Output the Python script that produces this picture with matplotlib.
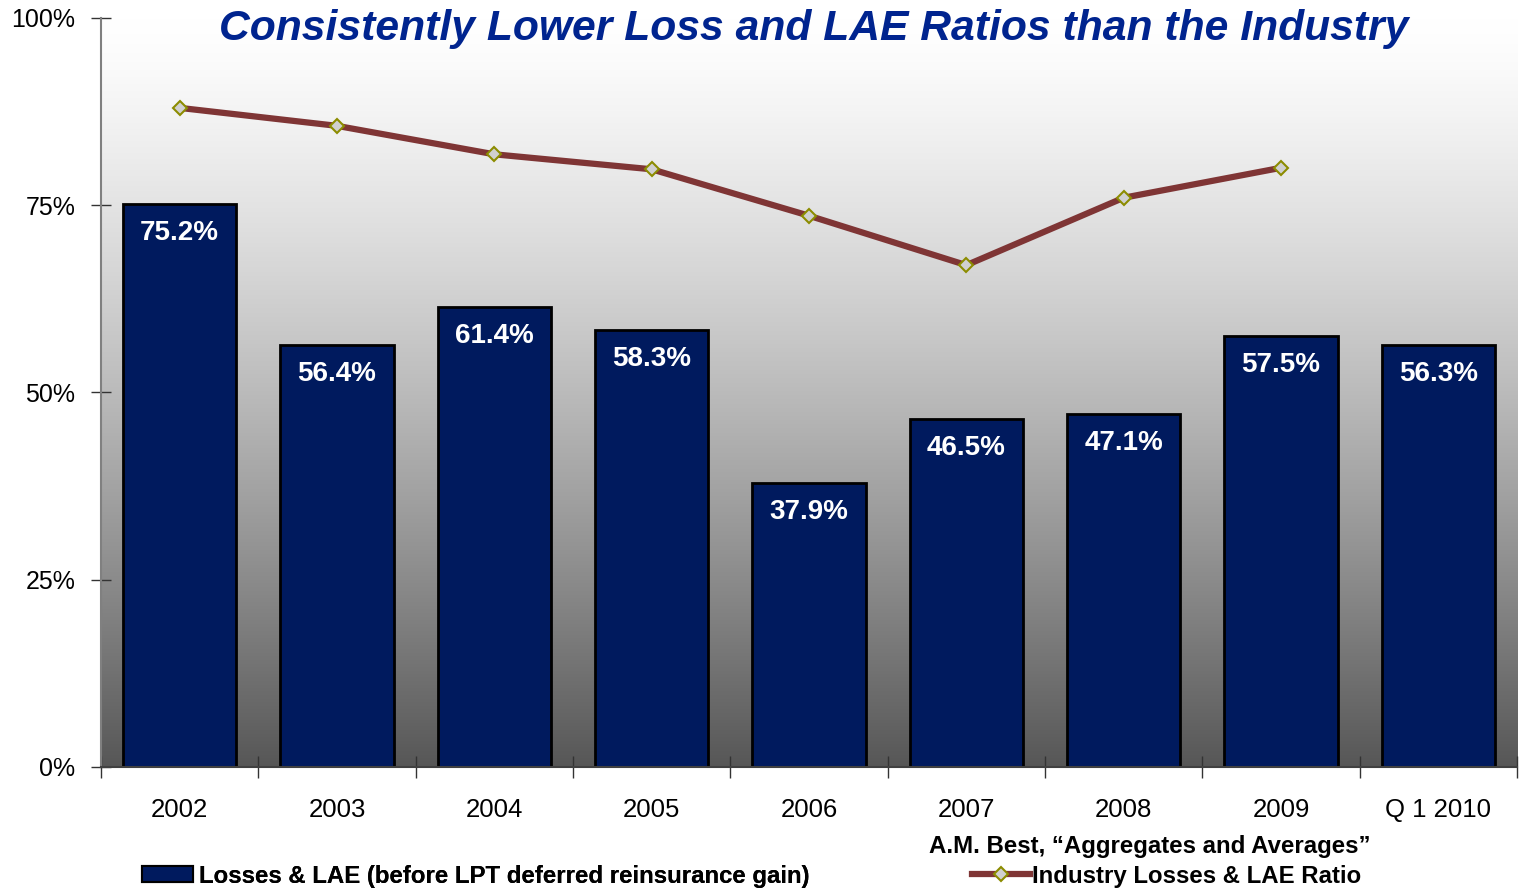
import numpy as np
import matplotlib.pyplot as plt
from matplotlib.lines import Line2D
from matplotlib.patches import Patch

categories = ["2002", "2003", "2004", "2005", "2006", "2007", "2008", "2009", "Q 1 2010"]
company_ratio = [75.2, 56.4, 61.4, 58.3, 37.9, 46.5, 47.1, 57.5, 56.3]
industry_ratio = [88.0, 85.6, 81.8, 79.8, 73.6, 67.0, 76.0, 80.0]

bar_color = "#001a5e"
line_color = "#7f3535"
title_color = "#00248f"

plt.rcParams['font.family'] = ['Liberation Sans', 'DejaVu Sans']

fig = plt.figure(figsize=(15.21, 8.91), dpi=100)
ax = fig.add_axes([0.0664, 0.1392, 0.931, 0.8406])

x = np.arange(len(categories))

# gradient background, white at top to dark gray at bottom
grad = np.linspace(0, 1, 256).reshape(-1, 1)
shade = 1 - 0.66 * grad ** 1.3
img = np.dstack([shade, shade, shade])
ax.imshow(img, extent=(-0.5, len(categories) - 0.5, 0, 100), aspect='auto',
          origin='upper', zorder=0)

ax.bar(x, company_ratio, width=0.72, color=bar_color, edgecolor="black",
       linewidth=2, zorder=2)
for xi, v in zip(x, company_ratio):
    ax.annotate(f"{v:.1f}%", (xi, v), xytext=(0, -21), textcoords="offset points",
                ha="center", va="center", color="white", fontsize=20,
                fontweight="bold", zorder=4)

ax.plot(x[:len(industry_ratio)], industry_ratio, color=line_color, linewidth=4.5,
        marker="D", markersize=7, markerfacecolor="#d0d0d0",
        markeredgecolor="#8c8c00", markeredgewidth=1.5, zorder=3)

ax.set_xlim(-0.5, len(categories) - 0.5)
ax.set_ylim(0, 100)

ax.set_yticks([0, 25, 50, 75, 100])
ax.set_yticklabels([f"{t}%" for t in [0, 25, 50, 75, 100]])
ax.tick_params(axis="y", direction="inout", length=15, width=1, pad=11,
               labelsize=18, color="#333333")

ax.set_xticks(x)
ax.set_xticklabels(categories)
ax.set_xticks(np.arange(-0.5, len(categories)), minor=True)
ax.tick_params(axis="x", which="major", length=0, pad=22, labelsize=18.5)
ax.tick_params(axis="x", which="minor", direction="inout", length=16, width=1,
               color="#333333")

for s in ["top", "right"]:
    ax.spines[s].set_visible(False)
ax.spines["left"].set_color("#808080")
ax.spines["left"].set_linewidth(1.5)
ax.spines["bottom"].set_color("#404040")
ax.spines["bottom"].set_linewidth(1.5)
ax.spines["bottom"].set_zorder(5)

fig.text(0.535, 0.968, "Consistently Lower Loss and LAE Ratios than the Industry",
         ha="center", va="center", fontsize=30.7, fontweight="bold",
         fontstyle="italic", color=title_color)

leg_font = {"weight": "bold", "size": 17.3}
leg1 = fig.legend(handles=[Patch(facecolor=bar_color, edgecolor="black", linewidth=1.5)],
                  labels=["Losses & LAE (before LPT deferred reinsurance gain)"],
                  loc="center left", bbox_to_anchor=(0.0934, 0.0168), frameon=False,
                  prop=leg_font, handlelength=2.12, handleheight=0.67,
                  handletextpad=0.25, borderpad=0, borderaxespad=0)
leg2 = fig.legend(handles=[Line2D([], [], color=line_color, linewidth=4.5, marker="D",
                                  markersize=7, markerfacecolor="#d0d0d0",
                                  markeredgecolor="#8c8c00", markeredgewidth=1.5)],
                  labels=["Industry Losses & LAE Ratio"],
                  loc="center left", bbox_to_anchor=(0.639, 0.0168), frameon=False,
                  prop=leg_font, handlelength=2.4, handletextpad=0.1,
                  borderpad=0, borderaxespad=0)
fig.add_artist(leg1)

fig.text(0.756, 0.0505, "A.M. Best, \u201cAggregates and Averages\u201d",
         ha="center", va="center", fontsize=17.3, fontweight="bold")

fig.savefig("out.png", dpi=100, facecolor="white")
